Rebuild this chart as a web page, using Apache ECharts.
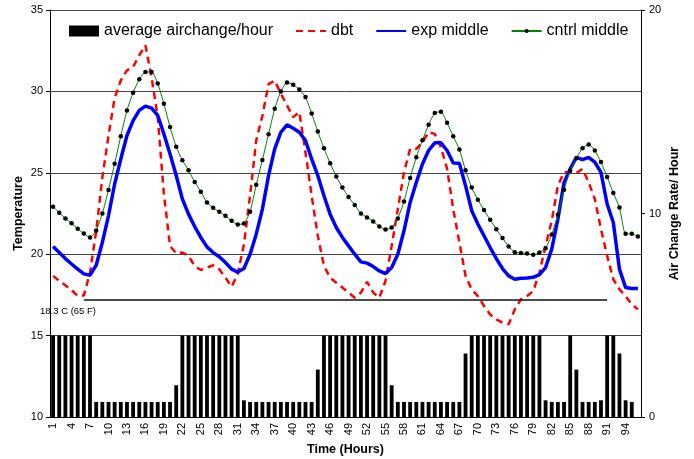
<!DOCTYPE html>
<html>
<head>
<meta charset="utf-8">
<script src="https://cdn.jsdelivr.net/npm/echarts@6/dist/echarts.min.js"></script>
<style>
html,body{margin:0;padding:0;background:#fff;}
#chart{width:694px;height:459px;}
</style>
</head>
<body>
<div id="chart"></div>
<script>
// Hours 1..96 (category labels)
var hours = [];
for (var h = 1; h <= 96; h++) hours.push(String(h));

// Average air change rate per hour (right axis)
var airchange = [4,4,4,4,4,4,4,
  0.74,0.74,0.74,0.74,0.74,0.74,0.74,0.74,0.74,0.74,0.74,0.74,0.74,
  1.56,
  4,4,4,4,4,4,4,4,4,4,
  0.82,
  0.74,0.74,0.74,0.74,0.74,0.74,0.74,0.74,0.74,0.74,0.74,
  2.33,
  4,4,4,4,4,4,4,4,4,4,4,
  1.56,
  0.74,0.74,0.74,0.74,0.74,0.74,0.74,0.74,0.74,0.74,0.74,
  3.12,
  4,4,4,4,4,4,4,4,4,4,4,4,
  0.82,0.74,0.74,0.74,
  4,2.33,
  0.74,0.74,0.74,0.82,
  4,4,3.12,0.82,0.74,
  null];

// Dry bulb temperature
var dbt = [18.67,18.36,18.09,17.8,17.43,17.47,18.87,21.4,24.7,27.29,
  29.6,30.68,31.29,31.5,32.22,32.83,30.85,28.45,23.7,20.5,
  20.06,20.1,19.9,19.28,19.03,19.18,19.32,19.08,18.56,18.0,
  18.79,20.6,23.6,27.0,28.5,30.45,30.66,29.86,29.14,28.42,
  28.73,26.26,23.59,21.13,19.28,18.56,18.25,17.95,17.64,17.33,
  17.64,18.3,17.64,17.33,18.36,20.51,22.77,25.03,26.47,26.47,
  26.88,27.49,27.39,26.57,25.25,22.77,20.72,18.67,17.84,17.43,
  16.82,16.3,16.0,15.79,15.69,16.61,17.23,17.43,17.74,18.87,
  20.51,22.05,24.21,25.03,25.03,24.99,25.24,24.41,23.39,21.54,
  19.9,18.46,17.84,17.43,16.92,16.61];

// Experimental room, middle height
var expMiddle = [20.47,20.1,19.73,19.4,19.08,18.79,18.71,19.32,20.72,22.36,
  24.31,25.85,27.29,28.21,28.83,29.1,28.97,28.52,27.39,26.16,
  24.83,23.39,22.46,21.7,21.03,20.45,20.1,19.84,19.49,19.08,
  18.9,19.12,20.0,21.23,22.77,24.83,26.47,27.49,27.95,27.74,
  27.49,26.98,25.85,24.83,23.59,22.46,21.64,21.03,20.51,20.0,
  19.53,19.45,19.24,18.97,18.81,19.18,20.0,21.44,23.18,24.41,
  25.54,26.37,26.84,26.84,26.37,25.6,25.58,24.21,22.67,21.85,
  21.13,20.41,19.73,19.12,18.67,18.46,18.52,18.54,18.58,18.75,
  19.18,20.31,22.16,24.41,25.24,25.95,25.81,25.95,25.65,25.03,
  23.08,21.95,19.08,17.95,17.89,17.89];

// Control room, middle height
var cntrlMiddle = [22.92,22.55,22.2,21.9,21.56,21.27,21.03,21.46,22.5,23.94,
  25.56,27.25,28.83,29.92,30.74,31.19,31.19,30.49,29.24,27.82,
  26.6,25.77,25.15,24.44,23.84,23.18,22.85,22.6,22.36,22.05,
  21.83,21.89,22.6,24.27,25.79,27.37,28.93,30.0,30.55,30.41,
  30.12,29.65,28.64,27.54,26.51,25.59,24.78,24.09,23.51,23.02,
  22.5,22.26,22.01,21.7,21.52,21.64,22.2,23.24,24.68,25.95,
  27.0,27.95,28.67,28.75,28.07,27.25,26.43,25.15,24.09,23.35,
  22.71,22.11,21.54,21.0,20.47,20.12,20.08,20.04,19.96,20.1,
  20.37,21.21,22.42,23.96,25.13,25.89,26.51,26.74,26.37,25.66,
  24.74,23.76,22.87,21.25,21.25,21.09];

// Reference threshold line
var thresholdValue = 17.23;
var thresholdLabel = '18.3 C (65 F)';
var thresholdFrom = '6', thresholdTo = '91';

var FONT = "'Liberation Sans', Arial, sans-serif";
var legendText = {fontSize: 16, color: '#000', fontFamily: FONT};
var chart = echarts.init(document.getElementById('chart'), null, {renderer: 'canvas'});
chart.setOption({
  animation: false,
  backgroundColor: '#fff',
  textStyle: {fontFamily: FONT},
  grid: {left: 50, right: 53, top: 10, bottom: 42, containLabel: false, outerBoundsMode: 'none'},
  legend: [{
    left: 69, top: 23, padding: 0,
    itemWidth: 30, itemHeight: 11,
    textStyle: legendText,
    data: [{name: 'average airchange/hour', icon: 'rect'}]
  }, {
    left: 295, top: 23, padding: 0,
    itemWidth: 30, itemHeight: 5, itemGap: 22,
    textStyle: legendText,
    data: [
      {name: 'dbt', itemStyle: {opacity: 0}},
      {name: 'exp middle', itemStyle: {opacity: 0}},
      'cntrl middle'
    ]
  }],
  graphic: [{
    type: 'text', left: 40, top: 306,
    style: {text: thresholdLabel, fontSize: 9.5, fill: '#000', fontFamily: FONT}
  }],
  xAxis: {
    type: 'category', data: hours, boundaryGap: true,
    name: 'Time (Hours)', nameLocation: 'middle', nameGap: 26, nameMoveOverlap: false,
    nameTextStyle: {fontSize: 12.5, fontWeight: 'bold', color: '#000', fontFamily: FONT},
    axisLine: {lineStyle: {color: '#000', width: 1}},
    axisTick: {interval: 0, length: 4, lineStyle: {color: '#000'}},
    axisLabel: {interval: 2, rotate: 90, fontSize: 11, color: '#000', margin: 6, fontFamily: FONT}
  },
  yAxis: [{
    type: 'value', min: 10, max: 35, interval: 5, position: 'left',
    name: 'Temperature', nameLocation: 'middle', nameGap: 25, nameRotate: 90, nameMoveOverlap: false,
    nameTextStyle: {fontSize: 12.5, fontWeight: 'bold', color: '#000', fontFamily: FONT},
    axisLine: {show: true, lineStyle: {color: '#000'}},
    axisTick: {show: true, length: 4, lineStyle: {color: '#000'}},
    axisLabel: {fontSize: 11, color: '#000', margin: 7, fontFamily: FONT},
    splitLine: {show: true, lineStyle: {color: '#444', width: 1}}
  }, {
    type: 'value', min: 0, max: 20, interval: 10, position: 'right',
    name: 'Air Change Rate/ Hour', nameLocation: 'middle', nameGap: 27, nameRotate: 90, nameMoveOverlap: false,
    nameTextStyle: {fontSize: 12.5, fontWeight: 'bold', color: '#000', fontFamily: FONT},
    axisLine: {show: true, lineStyle: {color: '#000'}},
    axisTick: {show: true, length: 4, lineStyle: {color: '#000'}},
    axisLabel: {fontSize: 11, color: '#000', margin: 8, fontFamily: FONT},
    splitLine: {show: false}
  }],
  series: [{
    name: 'average airchange/hour', type: 'bar', yAxisIndex: 1,
    data: airchange, barCategoryGap: '38%',
    itemStyle: {color: '#000'}, z: 1
  }, {
    name: 'dbt', type: 'line', yAxisIndex: 0, data: dbt,
    symbol: 'none', z: 3,
    lineStyle: {color: '#ff0000', width: 2.5, type: [7, 5]},
    itemStyle: {color: '#ff0000'},
    markLine: {
      silent: true, symbol: 'none', label: {show: false},
      lineStyle: {color: '#111', type: 'solid', width: 1.5},
      data: [[{coord: [thresholdFrom, thresholdValue]}, {coord: [thresholdTo, thresholdValue]}]]
    }
  }, {
    name: 'exp middle', type: 'line', yAxisIndex: 0, data: expMiddle,
    symbol: 'none', z: 4,
    lineStyle: {color: '#0000ff', width: 3.5},
    itemStyle: {color: '#0000ff'}
  }, {
    name: 'cntrl middle', type: 'line', yAxisIndex: 0, data: cntrlMiddle,
    symbol: 'circle', symbolSize: 4.5, showSymbol: true, showAllSymbol: true,
    z: 5, smooth: 0.2,
    lineStyle: {color: '#008000', width: 1},
    itemStyle: {color: '#000', borderWidth: 0}
  }]
});
</script>
</body>
</html>
